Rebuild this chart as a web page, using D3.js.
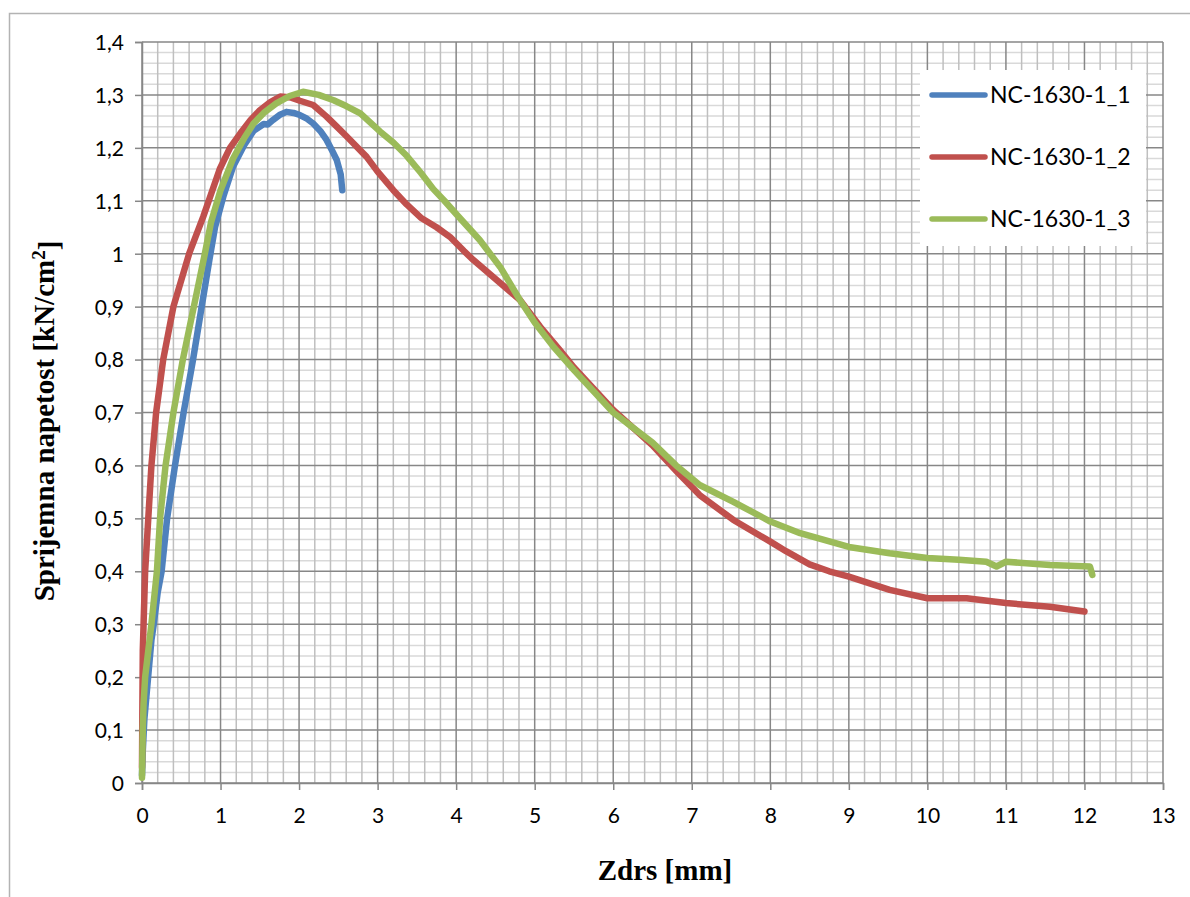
<!DOCTYPE html>
<html>
<head>
<meta charset="utf-8">
<script src="https://cdn.jsdelivr.net/npm/d3@7"></script>
<style>
  body { margin: 0; background: #fff; }
  svg { display: block; }
</style>
</head>
<body>
<svg id="chart" width="1190" height="897"></svg>
<script>
// series names
const seriesNames = ["NC-1630-1_1", "NC-1630-1_2", "NC-1630-1_3"];
const seriesColors = ["#4f81bd", "#c0504d", "#9bbb59"];

// [zdrs mm, napetost kN/cm2]
const s1 = [[0,0.015],[0.01,0.06],[0.03,0.12],[0.06,0.17],[0.09,0.22],[0.12,0.27],[0.15,0.3],
  [0.2,0.36],[0.25,0.4],[0.32,0.5],[0.42,0.6],[0.53,0.7],[0.65,0.8],[0.76,0.9],[0.86,0.99],
  [0.93,1.05],[1.04,1.11],[1.16,1.165],[1.3,1.205],[1.42,1.232],[1.55,1.245],[1.6,1.244],[1.67,1.253],
  [1.75,1.262],[1.84,1.268],[1.93,1.266],[2.01,1.262],[2.1,1.255],[2.18,1.246],[2.27,1.232],
  [2.35,1.215],[2.42,1.195],[2.48,1.177],[2.53,1.15],[2.55,1.12]];

const s2 = [[0,0.03],[0.005,0.15],[0.01,0.25],[0.02,0.3],[0.04,0.4],[0.08,0.5],[0.12,0.6],
  [0.18,0.7],[0.27,0.8],[0.4,0.9],[0.6,1.0],[0.78,1.07],[0.99,1.16],[1.12,1.2],[1.25,1.227],
  [1.38,1.252],[1.5,1.271],[1.63,1.286],[1.76,1.297],[1.9,1.295],[2.01,1.289],[2.18,1.281],
  [2.35,1.259],[2.48,1.24],[2.61,1.221],[2.86,1.183],[3.0,1.155],[3.2,1.12],[3.37,1.093],
  [3.55,1.068],[3.75,1.05],[3.92,1.032],[4.1,1.005],[4.22,0.988],[4.52,0.95],[4.81,0.913],
  [5.07,0.862],[5.32,0.818],[5.5,0.785],[6,0.705],[6.5,0.638],[6.8,0.59],[7.1,0.544],
  [7.53,0.497],[8,0.456],[8.2,0.438],[8.5,0.413],[8.75,0.4],[9,0.39],[9.52,0.365],[10,0.349],
  [10.5,0.349],[11,0.34],[11.56,0.333],[12,0.324]];

const s3 = [[0,0.01],[0.01,0.1],[0.02,0.15],[0.04,0.2],[0.08,0.25],[0.12,0.3],[0.19,0.4],
  [0.23,0.5],[0.3,0.6],[0.4,0.7],[0.52,0.8],[0.66,0.9],[0.8,1.0],[0.88,1.06],[1.0,1.12],
  [1.16,1.18],[1.3,1.218],[1.42,1.246],[1.55,1.266],[1.71,1.284],[1.88,1.298],[2.05,1.306],
  [2.25,1.3],[2.44,1.29],[2.6,1.279],[2.78,1.265],[3.03,1.231],[3.2,1.21],[3.37,1.185],
  [3.55,1.153],[3.71,1.122],[3.85,1.1],[4.0,1.075],[4.3,1.026],[4.56,0.975],[4.81,0.913],
  [5.0,0.87],[5.24,0.824],[5.5,0.78],[6,0.7],[6.5,0.643],[6.8,0.6],[7.1,0.563],[7.53,0.531],
  [8,0.494],[8.38,0.472],[9,0.446],[9.52,0.434],[10,0.425],[10.4,0.422],[10.75,0.418],
  [10.88,0.409],[11,0.418],[11.56,0.412],[12.07,0.409],[12.1,0.393]];

const allSeries = [s1, s2, s3];

const xTicks = d3.range(0, 14, 1);
const yTicks = d3.range(0, 15).map(i => i / 10);

const margin = { top: 42, right: 27, bottom: 114, left: 142 };
const svgWidth = 1190, svgHeight = 897;
const width = svgWidth - margin.left - margin.right;
const height = svgHeight - margin.top - margin.bottom;

const baseSvg = d3.select("#chart");

// outer chart border
baseSvg.append("rect")
  .attr("x", 9.5).attr("y", 13.5)
  .attr("width", 1200).attr("height", 900)
  .attr("fill", "#fff")
  .attr("stroke", "#b3b3b3")
  .attr("stroke-width", 1.5);

const svg = baseSvg.append("g")
  .attr("transform", `translate(${margin.left},${margin.top})`);

const x = d3.scaleLinear().domain([0, 13]).range([0, width]);
const y = d3.scaleLinear().domain([0, 1.4]).range([height, 0]);

// minor horizontal grid (0.02)
const yMinor = d3.range(0, 71).map(i => i / 50).filter((v, i) => i % 5 !== 0);
svg.append("g").selectAll("line").data(yMinor).join("line")
  .attr("x1", 0).attr("x2", width)
  .attr("y1", d => y(d)).attr("y2", d => y(d))
  .attr("stroke", "#d9d9d9").attr("stroke-width", 1.5);

// minor vertical grid (0.2)
const xMinor = d3.range(0, 66).map(i => i / 5).filter((v, i) => i % 5 !== 0);
svg.append("g").selectAll("line").data(xMinor).join("line")
  .attr("x1", d => x(d)).attr("x2", d => x(d))
  .attr("y1", 0).attr("y2", height)
  .attr("stroke", "#bfbfbf").attr("stroke-width", 1.5);

// major grid
svg.append("g").selectAll("line").data(yTicks).join("line")
  .attr("x1", 0).attr("x2", width)
  .attr("y1", d => y(d)).attr("y2", d => y(d))
  .attr("stroke", "#878787").attr("stroke-width", 1.5);
svg.append("g").selectAll("line").data(xTicks).join("line")
  .attr("x1", d => x(d)).attr("x2", d => x(d))
  .attr("y1", 0).attr("y2", height)
  .attr("stroke", "#878787").attr("stroke-width", 1.5);

// axes
const fmt = d => d3.format(".1~f")(d).replace(".", ",");
const xAxis = svg.append("g")
  .attr("transform", `translate(0,${height})`)
  .call(d3.axisBottom(x).tickValues(xTicks).tickSize(7).tickPadding(18).tickFormat(d3.format("d")));
const yAxis = svg.append("g")
  .call(d3.axisLeft(y).tickValues(yTicks).tickSize(7).tickPadding(11).tickFormat(fmt));

[xAxis, yAxis].forEach(a => {
  a.select(".domain").attr("stroke", "#878787").attr("stroke-width", 1.5);
  a.selectAll(".tick line").attr("stroke", "#878787").attr("stroke-width", 1.5);
  a.selectAll("text")
    .attr("fill", "#000")
    .attr("font-family", "Lato, 'Open Sans', sans-serif")
    .attr("font-size", "21px");
});
yAxis.selectAll("text").attr("dy", "0.35em");

// series lines
const line = d3.line().x(d => x(d[0])).y(d => y(d[1]));
svg.append("g").selectAll("path").data(allSeries).join("path")
  .attr("d", line)
  .attr("fill", "none")
  .attr("stroke", (d, i) => seriesColors[i])
  .attr("stroke-width", 6.5)
  .attr("stroke-linejoin", "round")
  .attr("stroke-linecap", "round");

// legend
const legend = baseSvg.append("g").attr("transform", "translate(920,70)");
legend.append("rect")
  .attr("width", 226).attr("height", 176)
  .attr("fill", "#fff");
const items = legend.selectAll("g").data(seriesNames).join("g")
  .attr("transform", (d, i) => `translate(0,${25 + i * 62})`);
items.append("line")
  .attr("x1", 12).attr("x2", 65)
  .attr("stroke", (d, i) => seriesColors[i])
  .attr("stroke-width", 5.5)
  .attr("stroke-linecap", "round");
items.append("text")
  .attr("x", 70).attr("dy", "0.35em")
  .attr("font-family", "Lato, 'Open Sans', sans-serif")
  .attr("font-size", "23px")
  .text(d => d);

// axis titles
baseSvg.append("text")
  .attr("x", 665)
  .attr("y", 880)
  .attr("text-anchor", "middle")
  .attr("font-family", "'Liberation Serif', serif")
  .attr("font-weight", "bold")
  .attr("font-size", "29px")
  .text("Zdrs [mm]");

const yLabel = baseSvg.append("text")
  .attr("transform", "rotate(-90)")
  .attr("x", -421)
  .attr("y", 54)
  .attr("text-anchor", "middle")
  .attr("font-family", "'Liberation Serif', serif")
  .attr("font-weight", "bold")
  .attr("font-size", "29px");
yLabel.append("tspan").text("Sprijemna napetost [kN/cm");
yLabel.append("tspan").attr("dy", "-0.45em").attr("font-size", "19px").text("2");
yLabel.append("tspan").attr("dy", "0.45em").text("]");
</script>
</body>
</html>
